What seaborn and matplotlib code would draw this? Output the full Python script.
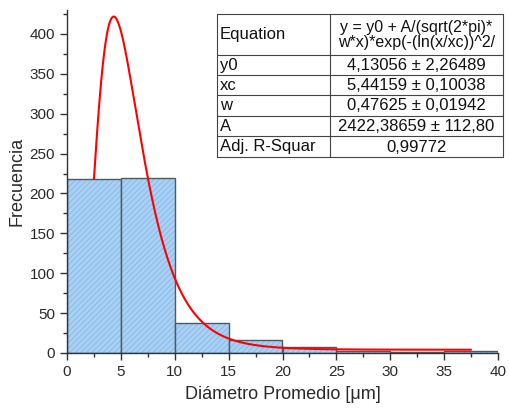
import numpy as np
import pandas as pd
import matplotlib
matplotlib.use("Agg")
import matplotlib.pyplot as plt
import seaborn as sns
from matplotlib.ticker import MultipleLocator
from matplotlib.lines import Line2D

# Data
bin_edges = [0, 5, 10, 15, 20, 25, 30, 35, 40]
counts = [218, 220, 37, 16, 7.5, 2, 1, 2]
# Log-normal fit parameters (from the table)
y0, xc, w, A = 4.13056, 5.44159, 0.47625, 2422.38659
fit_range = (2.5, 37.5)
table_rows = [
    ["Equation", "y = y0 + A/(sqrt(2*pi)*\nw*x)*exp(-(ln(x/xc))^2/"],
    ["y0", "4,13056 \u00b1 2,26489"],
    ["xc", "5,44159 \u00b1 0,10038"],
    ["w", "0,47625 \u00b1 0,01942"],
    ["A", "2422,38659 \u00b1 112,80"],
    ["Adj. R-Squar", "0,99772"],
]

sns.set_style("ticks")
plt.rcParams["font.family"] = ["Liberation Sans", "DejaVu Sans"]
plt.rcParams["hatch.color"] = "#7fb2e0"
plt.rcParams["hatch.linewidth"] = 0.5

fig = plt.figure(figsize=(5.10, 4.09), dpi=100)
W, H = 510, 409
ax = fig.add_axes([67 / W, 1 - 353 / H, 431 / W, 343 / H])

centers = [(a + b) / 2 for a, b in zip(bin_edges[:-1], bin_edges[1:])]
df = pd.DataFrame({"x": centers, "n": counts})
sns.histplot(data=df, x="x", weights="n", bins=bin_edges, ax=ax,
             color="#a9d0f5", alpha=1.0, edgecolor="#505860", linewidth=1.0)
for p in ax.patches:
    p.set_hatch("//////")
    p._hatch_color = matplotlib.colors.to_rgba("#7fb2e0")

xf = np.linspace(fit_range[0], fit_range[1], 600)
yf = y0 + A / (np.sqrt(2 * np.pi) * w * xf) * np.exp(-(np.log(xf / xc)) ** 2 / (2 * w ** 2))
sns.lineplot(x=xf, y=yf, ax=ax, color="#ff0000", linewidth=1.5)

ax.set_xlim(0, 40)
ax.set_ylim(0, 430)
ax.xaxis.set_major_locator(MultipleLocator(5))
ax.xaxis.set_minor_locator(MultipleLocator(2.5))
ax.yaxis.set_major_locator(MultipleLocator(50))
ax.yaxis.set_minor_locator(MultipleLocator(25))
ax.tick_params(which="major", length=5, width=1.0, color="#333333", labelsize=11, labelcolor="#2a2a2a")
ax.tick_params(which="minor", length=3, width=1.0, color="#333333")
sns.despine(ax=ax)
for s in ["left", "bottom"]:
    ax.spines[s].set_color("#333333")
    ax.spines[s].set_linewidth(1.0)
ax.set_xlabel("Di\u00e1metro Promedio [\u03bcm]", fontsize=13, color="#2a2a2a", labelpad=5)
ax.set_ylabel("Frecuencia", fontsize=13, color="#2a2a2a", labelpad=3)

# Table
tx0, tx1, tx2 = 217, 330, 503
ty = [14, 55, 75, 95, 116, 136, 157]
lc = "#444444"
for yy in ty:
    fig.add_artist(Line2D([tx0 / W, tx2 / W], [1 - yy / H, 1 - yy / H], color=lc, lw=0.8))
for xx in [tx0, tx1, tx2]:
    fig.add_artist(Line2D([xx / W, xx / W], [1 - ty[0] / H, 1 - ty[-1] / H], color=lc, lw=0.8))
for i, (a, b) in enumerate(table_rows):
    ymid = (ty[i] + ty[i + 1]) / 2 + 0.5
    fig.text((tx0 + 3) / W, 1 - ymid / H, a, ha="left", va="center", fontsize=12, color="#111111")
    fig.text(((tx1 + tx2) / 2) / W, 1 - ymid / H, b, ha="center", va="center",
             fontsize=11.5 if i == 0 else 12, color="#111111", linespacing=0.95)

fig.savefig("out.png", dpi=100)
